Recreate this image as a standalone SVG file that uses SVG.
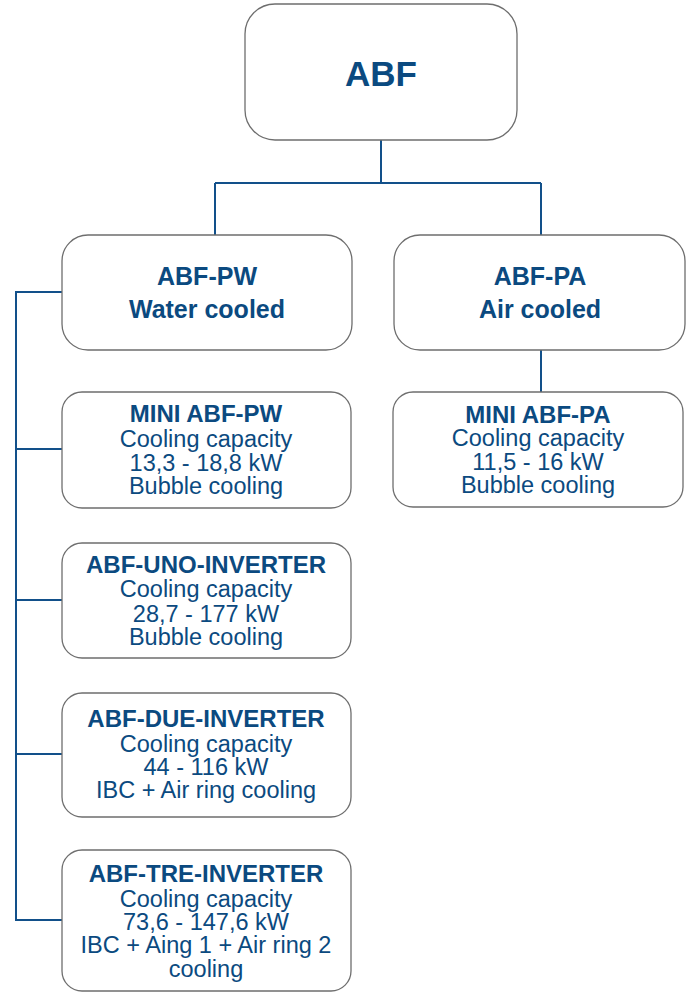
<svg xmlns="http://www.w3.org/2000/svg" width="691" height="993" viewBox="0 0 691 993">
<style>
.box{fill:#fff;stroke:#6e6e6e;stroke-width:1.3}
.con{fill:none;stroke:#12508a;stroke-width:2}
text{font-family:"Liberation Sans",Arial,sans-serif;fill:#0b4a80;text-anchor:middle}
.h{font-weight:bold;font-size:24px}
.h2{font-weight:bold;font-size:25px}
.b{font-size:23.5px}
</style>
<rect width="691" height="993" fill="#fff"/>
<g id="connectors">
<path class="con" d="M381 140V183M215 183H541M215 183V235M541 183V235"/>
<path class="con" d="M541 350V392"/>
<path class="con" d="M62 292H16V920H62M16 449H62M16 600H62M16 754H62"/>
</g>
<g id="abf">
<rect class="box" x="245" y="4" width="272" height="136" rx="30"/>
<text x="381" y="86" style="font-weight:bold;font-size:35px">ABF</text>
</g>
<g id="abf-pw">
<rect class="box" x="62" y="235" width="290" height="115" rx="26"/>
<text class="h2" x="207" y="285">ABF-PW</text>
<text class="h2" x="207" y="318">Water cooled</text>
</g>
<g id="abf-pa">
<rect class="box" x="394" y="235" width="291" height="115" rx="26"/>
<text class="h2" x="540" y="285">ABF-PA</text>
<text class="h2" x="540" y="318">Air cooled</text>
</g>
<g id="mini-abf-pa">
<rect class="box" x="393" y="392" width="290" height="115" rx="20"/>
<text class="h" x="538" y="423">MINI ABF-PA</text>
<text class="b" x="538" y="446">Cooling capacity</text>
<text class="b" x="538" y="470">11,5 - 16 kW</text>
<text class="b" x="538" y="493">Bubble cooling</text>
</g>
<g id="mini-abf-pw">
<rect class="box" x="62" y="392" width="289" height="116" rx="20"/>
<text class="h" x="206" y="422">MINI ABF-PW</text>
<text class="b" x="206" y="447">Cooling capacity</text>
<text class="b" x="206" y="471">13,3 - 18,8 kW</text>
<text class="b" x="206" y="494">Bubble cooling</text>
</g>
<g id="abf-uno-inverter">
<rect class="box" x="62" y="543" width="289" height="115" rx="20"/>
<text class="h" x="206" y="573">ABF-UNO-INVERTER</text>
<text class="b" x="206" y="597">Cooling capacity</text>
<text class="b" x="206" y="622">28,7 - 177 kW</text>
<text class="b" x="206" y="645">Bubble cooling</text>
</g>
<g id="abf-due-inverter">
<rect class="box" x="62" y="693" width="289" height="124" rx="20"/>
<text class="h" x="206" y="727">ABF-DUE-INVERTER</text>
<text class="b" x="206" y="752">Cooling capacity</text>
<text class="b" x="206" y="775">44 - 116 kW</text>
<text class="b" x="206" y="798">IBC + Air ring cooling</text>
</g>
<g id="abf-tre-inverter">
<rect class="box" x="62" y="850" width="289" height="141" rx="20"/>
<text class="h" x="206" y="882">ABF-TRE-INVERTER</text>
<text class="b" x="206" y="907">Cooling capacity</text>
<text class="b" x="206" y="930">73,6 - 147,6 kW</text>
<text class="b" x="206" y="953">IBC + Aing 1 + Air ring 2</text>
<text class="b" x="206" y="977">cooling</text>
</g>
</svg>
